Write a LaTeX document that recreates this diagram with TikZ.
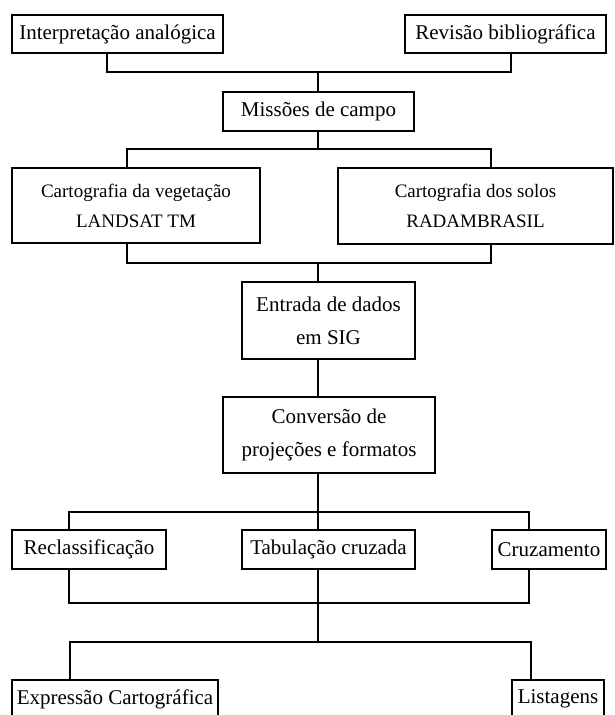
\documentclass[tikz,border=0pt]{standalone}
\usepackage{fontspec}
\setmainfont{Liberation Serif}
\tikzset{
    etapa/.style={draw, line width=1.6pt, inner sep=0pt, align=center, font=\fontsize{21}{33}\selectfont},
    fonte/.style={font=\fontsize{19}{30}\selectfont},
    ligacao/.style={line width=1.6pt}
}
\begin{document}
\begin{tikzpicture}[x=1pt, y=-1pt]
    \useasboundingbox (0,0) rectangle (615,715);
    \node[etapa, minimum width=211, minimum height=38] (interp) at (117.5,34) {Interpretação analógica};
    \node[etapa, minimum width=201, minimum height=38] (revisao) at (505.5,34) {Revisão bibliográfica};
    \node[etapa, minimum width=191, minimum height=39] (missoes) at (318.5,111.5) {Missões de campo};
    \node[etapa, fonte, minimum width=248, minimum height=75] (cartveg) at (136,205.5) {Cartografia da vegetação\\LANDSAT TM};
    \node[etapa, fonte, minimum width=275, minimum height=76] (cartsolos) at (475.5,206) {Cartografia dos solos\\RADAMBRASIL};
    \node[etapa, minimum width=173, minimum height=77] (entrada) at (328.5,320.5) {Entrada de dados\\em SIG};
    \node[etapa, minimum width=212, minimum height=76] (conversao) at (329,435) {Conversão de\\projeções e formatos};
    \node[etapa, minimum width=154, minimum height=39] (reclass) at (89,549.5) {Reclassificação};
    \node[etapa, minimum width=173, minimum height=39] (tabulacao) at (328.5,549.5) {Tabulação cruzada};
    \node[etapa, minimum width=114, minimum height=39] (cruzamento) at (549,549.5) {Cruzamento};
    \node[etapa, minimum width=206, minimum height=38] (expressao) at (115,699) {Expressão Cartográfica};
    \node[etapa, minimum width=92, minimum height=38] (listagens) at (558,699) {Listagens};

    \coordinate (b1) at (318,72);
    \coordinate (b2) at (318,149);
    \coordinate (b3) at (318,263);
    \coordinate (b4) at (318,512);
    \coordinate (b5) at (318,603);
    \coordinate (b6) at (318,642);

    \draw[ligacao] ([xshift=-10.5]interp.south) |- (b1) -| ([xshift=5.5]revisao.south);
    \draw[ligacao] (b1) -- (b1 |- missoes.north);
    \draw[ligacao] (b1 |- missoes.south) -- (b2);
    \draw[ligacao] ([xshift=-9]cartveg.north) |- (b2) -| ([xshift=15.5]cartsolos.north);
    \draw[ligacao] ([xshift=-9]cartveg.south) |- (b3) -| ([xshift=15.5]cartsolos.south);
    \draw[ligacao] (b3) -- (b3 |- entrada.north);
    \draw[ligacao] (b3 |- entrada.south) -- (b3 |- conversao.north);
    \draw[ligacao] (b3 |- conversao.south) -- (b3 |- tabulacao.north);
    \draw[ligacao] ([xshift=-20]reclass.north) |- (b4) -| ([xshift=-20]cruzamento.north);
    \draw[ligacao] ([xshift=-20]reclass.south) |- (b5) -| ([xshift=-20]cruzamento.south);
    \draw[ligacao] (b3 |- tabulacao.south) -- (b6);
    \draw[ligacao] ([xshift=-45]expressao.north) |- (b6) -| ([xshift=-27]listagens.north);
\end{tikzpicture}
\end{document}
